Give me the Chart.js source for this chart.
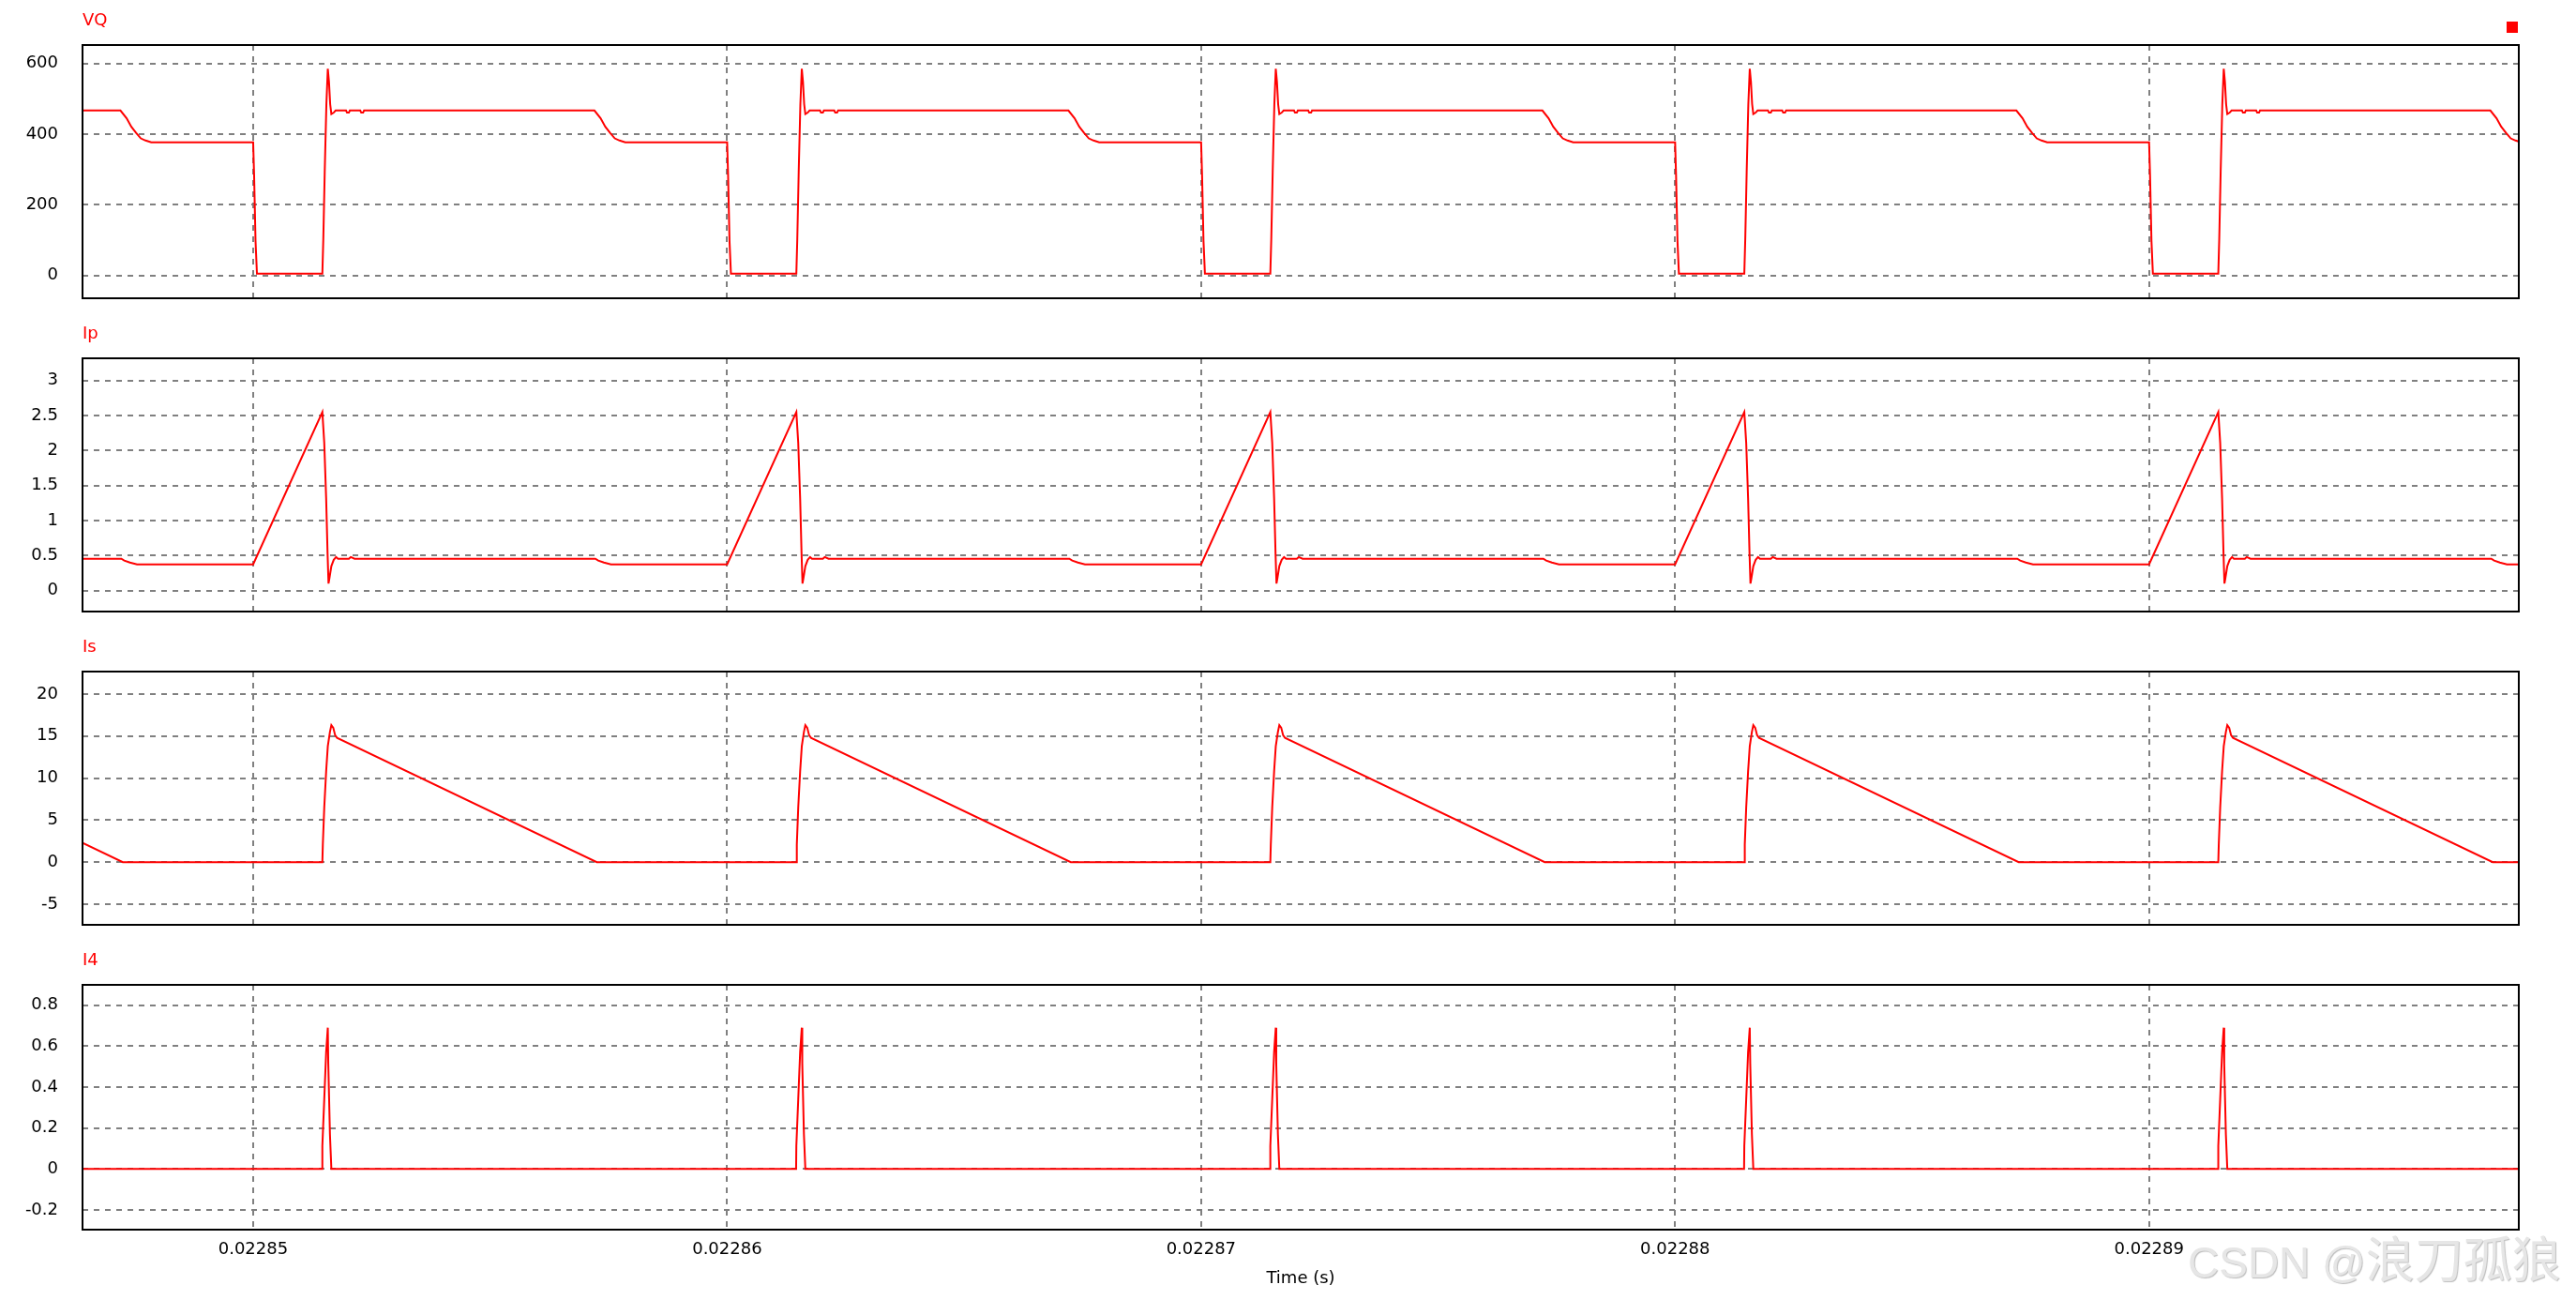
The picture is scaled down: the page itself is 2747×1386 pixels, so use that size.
<!DOCTYPE html>
<html>
<head>
<meta charset="utf-8">
<title>VQ / Ip / Is / I4</title>
<script src="https://cdn.jsdelivr.net/npm/chart.js@4.4.1/dist/chart.umd.min.js"></script>
<style>
    html, body { margin: 0; padding: 0; background: #fff; }
    body { width: 2747px; height: 1386px; position: relative; overflow: hidden; }
    canvas { position: absolute; left: 0; }
    #marker { position: absolute; left: 2673px; top: 23px; width: 12px; height: 12px; background: #ff0000; }
    #watermark { position: absolute; left: 2333px; top: 1312px; white-space: nowrap; color: #e6e6e6;
                 text-shadow: 1px 1px 1px #bdbdbd; line-height: 56px; }
    #watermark .latin { font-family: "Liberation Sans", Arial, sans-serif; font-size: 46px; }
    #watermark .cjk { font-family: "Noto Sans CJK SC", sans-serif; font-size: 52px; }
</style>
</head>
<body>
<canvas id="vq" width="2747" height="310" style="top:12px"></canvas>
<canvas id="ip" width="2747" height="310" style="top:346px"></canvas>
<canvas id="is" width="2747" height="310" style="top:680px"></canvas>
<canvas id="i4" width="2747" height="364" style="top:1014px"></canvas>
<div id="marker"></div>
<div id="watermark"><span class="latin">CSDN @</span><span class="cjk">浪刀孤狼</span></div>
<script>
// switching periods (start of each, in microseconds) - the switch turns on at every grid line
var periodStarts = [22840, 22850, 22860, 22870, 22880, 22890];

// one period of each trace, time in microseconds after turn-on
var vqTimes = [0, 0.02, 0.05, 0.08, 1.46, 1.48, 1.51, 1.545, 1.575, 1.6, 1.625, 1.65, 1.7, 1.74,
               1.96, 1.98, 2.02, 2.04, 2.26, 2.28, 2.32, 2.34, 7.2, 7.33, 7.43, 7.53, 7.63, 7.73, 7.85, 10];
var vqValues = [377, 284, 98, 5, 5, 103, 293, 485, 585, 548, 485, 457, 461, 467,
                467, 461, 461, 467, 467, 461, 461, 467, 467, 445, 421, 404, 388, 382, 377, 377];

var ipTimes = [0, 1.46, 1.5, 1.54, 1.57, 1.59, 1.61, 1.65, 1.7, 1.75, 1.79, 2.02, 2.06, 2.14, 7.22, 7.28, 7.4, 7.55, 10];
var ipValues = [0.375, 2.55, 2.11, 1.32, 0.53, 0.1, 0.18, 0.35, 0.44, 0.48, 0.455, 0.455, 0.48, 0.455, 0.455, 0.43, 0.4, 0.375, 0.375];

var isTimes = [0, 1.46, 1.47, 1.5, 1.54, 1.575, 1.62, 1.65, 1.69, 1.73, 1.77, 7.25, 10];
var isValues = [0, 0, 2.1, 6.5, 10.8, 13.8, 15.5, 16.3, 16.0, 15.1, 14.8, 0, 0];

var i4Times = [0, 1.455, 1.46, 1.5, 1.54, 1.575, 1.585, 1.62, 1.65, 10];
var i4Values = [0, 0, 0.113, 0.34, 0.57, 0.69, 0.515, 0.17, 0, 0];

// axes
var xMin = 0.0228464, xMax = 0.0228978;
var xTicks = [0.02285, 0.02286, 0.02287, 0.02288, 0.02289];
var xTickLabels = ['0.02285', '0.02286', '0.02287', '0.02288', '0.02289'];

var vqTicks = [0, 200, 400, 600];
var vqTickLabels = ['0', '200', '400', '600'];
var ipTicks = [0, 0.5, 1, 1.5, 2, 2.5, 3];
var ipTickLabels = ['0', '0.5', '1', '1.5', '2', '2.5', '3'];
var isTicks = [-5, 0, 5, 10, 15, 20];
var isTickLabels = ['-5', '0', '5', '10', '15', '20'];
var i4Ticks = [-0.2, 0, 0.2, 0.4, 0.6, 0.8];
var i4TickLabels = ['-0.2', '0', '0.2', '0.4', '0.6', '0.8'];

var labelFont = { family: 'DejaVu Sans', size: 18, weight: 'normal', lineHeight: 1.2 };

function buildSeries(times, values) {
    var points = [];
    periodStarts.forEach(function (start) {
        times.forEach(function (t, i) {
            points.push({ x: (start + t) * 1e-6, y: values[i] });
        });
    });
    return points;
}

// black box around each plot area
var framePlugin = {
    id: 'frame',
    afterDraw: function (chart) {
        var a = chart.chartArea;
        var ctx = chart.ctx;
        ctx.save();
        ctx.strokeStyle = '#000000';
        ctx.lineWidth = 2;
        ctx.strokeRect(a.left, a.top, a.right - a.left, a.bottom - a.top);
        ctx.restore();
    }
};

// tick labels must not push the plot area around, every panel has the same box
function noPadding(scale) {
    scale.paddingTop = 0;
    scale.paddingBottom = 0;
    scale.paddingLeft = 0;
    scale.paddingRight = 0;
}

function createPanel(id, name, points, yMin, yMax, yTicks, yTickLabels, showTime) {
    var ctx = document.getElementById(id).getContext('2d');
    return new Chart(ctx, {
        type: 'line',
        data: {
            datasets: [{
                data: points,
                borderColor: '#ff0000',
                borderWidth: 2,
                pointRadius: 0,
                tension: 0,
                fill: false
            }]
        },
        options: {
            responsive: false,
            animation: false,
            devicePixelRatio: 1,
            layout: { padding: { left: 0, right: 61, top: 0, bottom: showTime ? 0 : 4 } },
            plugins: {
                legend: { display: false },
                tooltip: { enabled: false },
                title: {
                    display: true,
                    text: name,
                    align: 'start',
                    fullSize: false,
                    color: '#ff0000',
                    font: labelFont,
                    padding: { top: 0, bottom: 14.4 }
                }
            },
            scales: {
                x: {
                    type: 'linear',
                    min: xMin,
                    max: xMax,
                    afterBuildTicks: function (scale) {
                        scale.ticks = xTicks.map(function (v) { return { value: v }; });
                    },
                    afterFit: function (scale) {
                        scale.height = showTime ? 67 : 0;
                        noPadding(scale);
                    },
                    grid: { color: '#808080', lineWidth: 2, drawTicks: false },
                    border: { display: false, dash: [6, 6] },
                    ticks: {
                        display: showTime,
                        autoSkip: false,
                        maxRotation: 0,
                        padding: 11,
                        color: '#000000',
                        font: labelFont,
                        callback: function (value, i) { return xTickLabels[i]; }
                    },
                    title: {
                        display: showTime,
                        text: 'Time (s)',
                        color: '#000000',
                        font: labelFont,
                        padding: { top: 0, bottom: 4 }
                    }
                },
                y: {
                    min: yMin,
                    max: yMax,
                    afterBuildTicks: function (scale) {
                        scale.ticks = yTicks.map(function (v) { return { value: v }; });
                    },
                    afterFit: function (scale) {
                        scale.width = 88;
                        noPadding(scale);
                    },
                    grid: { color: '#808080', lineWidth: 2, drawTicks: false },
                    border: { display: false, dash: [6, 6] },
                    ticks: {
                        autoSkip: false,
                        padding: 26,
                        color: '#000000',
                        font: labelFont,
                        callback: function (value, i) { return yTickLabels[i]; }
                    }
                }
            }
        },
        plugins: [framePlugin]
    });
}

createPanel('vq', 'VQ', buildSeries(vqTimes, vqValues), -64.5, 652.3, vqTicks, vqTickLabels, false);
createPanel('ip', 'Ip', buildSeries(ipTimes, ipValues), -0.299, 3.317, ipTicks, ipTickLabels, false);
createPanel('is', 'Is', buildSeries(isTimes, isValues), -7.455, 22.68, isTicks, isTickLabels, false);
createPanel('i4', 'I4', buildSeries(i4Times, i4Values), -0.296, 0.899, i4Ticks, i4TickLabels, true);
</script>
</body>
</html>
